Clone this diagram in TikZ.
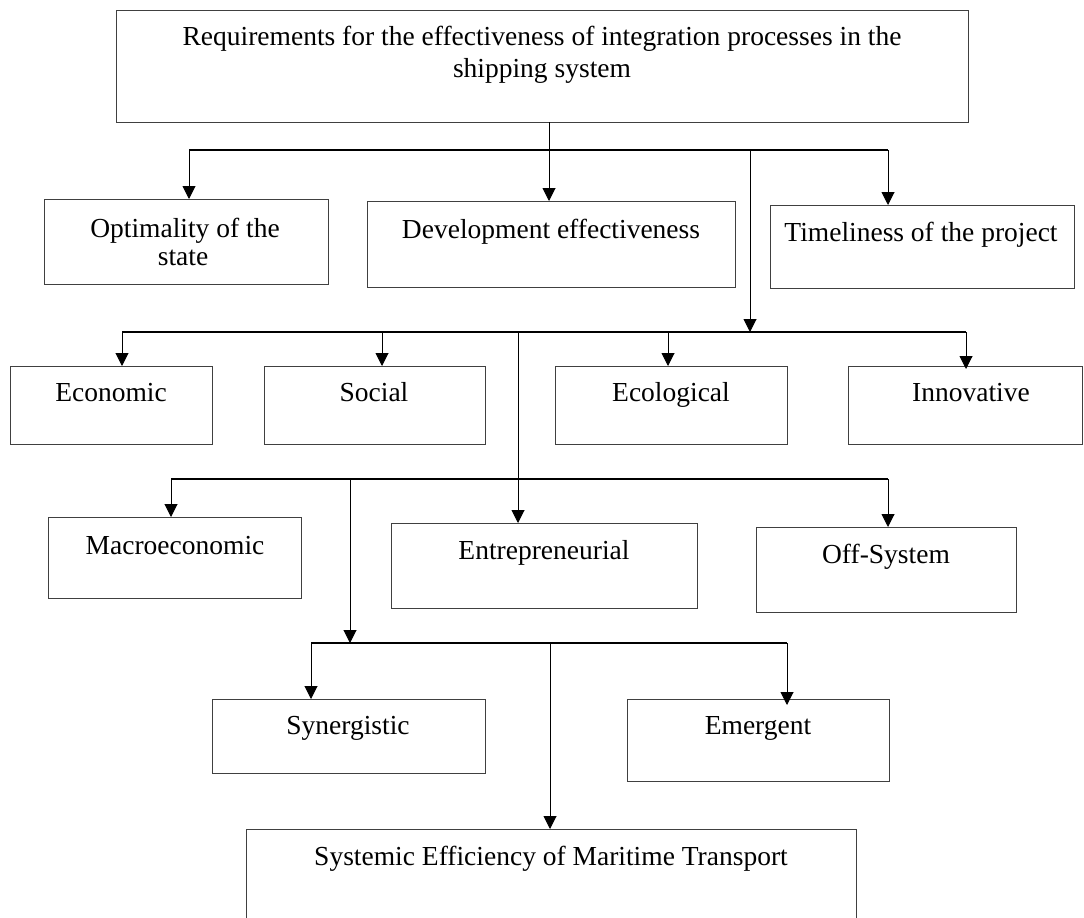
\documentclass[tikz,border=0pt]{standalone}
\usepackage{fontspec}
\setmainfont{Liberation Serif}
\usetikzlibrary{arrows.meta}
\tikzset{
  box/.style={draw=black!75, line width=1.2pt, rectangle, anchor=north west, inner sep=0pt},
  txt/.style={font=\fontsize{27.5}{32}\selectfont, inner sep=0pt, align=center},
  bus/.style={line width=2.6pt, line cap=butt},
  arr/.style={line width=1pt, -{Triangle[length=13pt,width=13pt]}},
  ln/.style={line width=1pt}
}
\begin{document}
\begin{tikzpicture}[x=1pt,y=-1pt]
\useasboundingbox (0,0) rectangle (1084,918);
% boxes
\node[box, minimum width=852pt, minimum height=112pt] (top) at (116,10) {};
\node[box, minimum width=284pt, minimum height=85pt] (opt) at (44,199) {};
\node[box, minimum width=368pt, minimum height=86pt] (dev) at (367,201) {};
\node[box, minimum width=304pt, minimum height=83pt] (tim) at (770,205) {};
\node[box, minimum width=202pt, minimum height=78pt] (eco) at (10,366) {};
\node[box, minimum width=221pt, minimum height=78pt] (soc) at (264,366) {};
\node[box, minimum width=232pt, minimum height=78pt] (ecl) at (555,366) {};
\node[box, minimum width=234pt, minimum height=78pt] (inn) at (848,366) {};
\node[box, minimum width=253pt, minimum height=81pt] (mac) at (48,517) {};
\node[box, minimum width=306pt, minimum height=85pt] (ent) at (391,523) {};
\node[box, minimum width=260pt, minimum height=85pt] (off) at (756,527) {};
\node[box, minimum width=273pt, minimum height=74pt] (syn) at (212,699) {};
\node[box, minimum width=262pt, minimum height=82pt] (emg) at (627,699) {};
\node[box, minimum width=610pt, minimum height=100pt] (sys) at (246,829) {};
% texts
\node[txt, anchor=base] (topT) at (542,45) {Requirements for the effectiveness of integration processes in the};
\node[txt, anchor=base] (topT2) at (542,77) {shipping system};
\node[txt, anchor=base] (optT) at (185,237) {Optimality of the};
\node[txt, anchor=base] (optT2) at (183,265) {state};
\node[txt, anchor=base] (devT) at (551,238) {Development effectiveness};
\node[txt, anchor=base] (timT) at (921,241) {Timeliness of the project};
\node[txt, anchor=base] (ecoT) at (111,401) {Economic};
\node[txt, anchor=base] (socT) at (374,401) {Social};
\node[txt, anchor=base] (eclT) at (671,401) {Ecological};
\node[txt, anchor=base] (innT) at (971,401) {Innovative};
\node[txt, anchor=base] (macT) at (175,554) {Macroeconomic};
\node[txt, anchor=base] (entT) at (544,559) {Entrepreneurial};
\node[txt, anchor=base] (offT) at (886,563) {Off-System};
\node[txt, anchor=base] (synT) at (348,734) {Synergistic};
\node[txt, anchor=base] (emgT) at (758,734) {Emergent};
\node[txt, anchor=base] (sysT) at (551,865) {Systemic Efficiency of Maritime Transport};
% bus coordinates
\coordinate (t0) at (549,122);
\coordinate (b1L) at (189,150);
\coordinate (b1M) at (549,150);
\coordinate (b1X) at (750,150);
\coordinate (b1R) at (888,150);
\coordinate (b2L) at (122,332);
\coordinate (b2S) at (382,332);
\coordinate (b2M) at (518,332);
\coordinate (b2X) at (750,332);
\coordinate (b2E) at (668,332);
\coordinate (b2R) at (966,332);
\coordinate (b3L) at (171,479);
\coordinate (b3X) at (350,479);
\coordinate (b3R) at (888,479);
\coordinate (b4L) at (311,643);
\coordinate (b4X) at (350,643);
\coordinate (b4M) at (550,643);
\coordinate (b4R) at (787,643);
% buses
\draw[bus] (b1L) -- (b1R);
\draw[bus] (b2L) -- (b2R);
\draw[bus] (b3L) -- (b3R);
\draw[bus] (b4L) -- (b4R);
% connectors
\draw[ln] (t0) -- (b1M);
\draw[arr] (b1L) -- (b1L |- opt.north);
\draw[arr] (b1M) -- (b1M |- dev.north);
\draw[arr] (b1R) -- (b1R |- tim.north);
\draw[arr] (b1X) -- (b2X);
\draw[arr] (b2L) -- (b2L |- eco.north);
\draw[arr] (b2S) -- (b2S |- soc.north);
\draw[arr] (b2E) -- (b2E |- ecl.north);
\draw[arr] (b2R) -- ([yshift=-3pt]b2R |- inn.north);
\draw[arr] (b2M) -- (b2M |- ent.north);
\draw[arr] (b3L) -- (b3L |- mac.north);
\draw[arr] (b3R) -- (b3R |- off.north);
\draw[arr] (b3X) -- (b4X);
\draw[arr] (b4L) -- (b4L |- syn.north);
\draw[arr] (b4R) -- ([yshift=-6pt]b4R |- emg.north);
\draw[arr] (b4M) -- (b4M |- sys.north);
\end{tikzpicture}
\end{document}
